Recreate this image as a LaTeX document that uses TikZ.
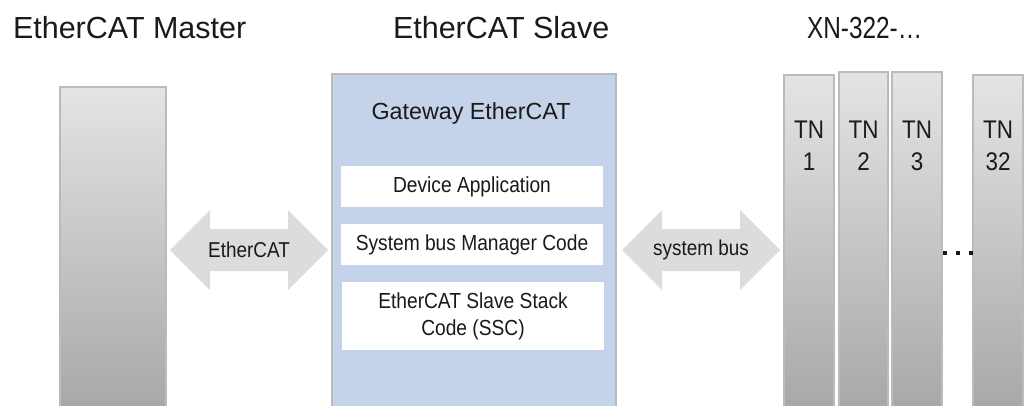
\documentclass[tikz,border=0pt]{standalone}
\usepackage{fontspec}
\setmainfont{Liberation Sans}
\newfontfamily\cond[FakeStretch=0.88]{Liberation Sans}
\newfontfamily\narrowt[FakeStretch=0.8]{Liberation Sans}
\usetikzlibrary{calc}
\definecolor{bord}{HTML}{BBBBBB}
\definecolor{slavebg}{HTML}{C5D3EA}
\definecolor{arrowgray}{HTML}{DCDCDC}
\definecolor{gtop}{HTML}{E4E4E4}
\definecolor{gbot}{HTML}{A8A8A8}
\definecolor{ink}{HTML}{1A1A1A}
\begin{document}
\begin{tikzpicture}[x=1pt,y=1pt,
  every node/.style={inner sep=0pt, outer sep=0pt, text=ink},
  device/.style={draw=bord, line width=1.5pt, top color=gtop, bottom color=gbot,
    anchor=north west, minimum width=#1},
  slavebox/.style={draw=bord, line width=1.5pt, fill=slavebg, anchor=north west},
  layer/.style={fill=white, anchor=north west, minimum width=262, align=center,
    font=\cond\fontsize{21.8}{27}\selectfont},
  title/.style={anchor=base west, font=\fontsize{30.5}{34}\selectfont},
  tnlabel/.style={align=center, font=\cond\fontsize{25.5}{32}\selectfont},
  buslabel/.style={font=\cond\fontsize{21.5}{24}\selectfont},
  busarrow/.style={fill=arrowgray}
]
\useasboundingbox (0,0) rectangle (1029,-405);

% titles
\node[title] (tmaster) at (13,-38) {EtherCAT Master};
\node[title] (tslave) at (393,-38) {EtherCAT Slave};
\node[title, font=\narrowt\fontsize{30.5}{34}\selectfont] (txn) at (807,-38) {XN-322-…};

% master
\node[device=106, minimum height=321] (master) at (60,-87) {};

% slave
\node[slavebox, minimum width=284, minimum height=335] (slave) at (332,-74) {};
\node[font=\fontsize{23.3}{28}\selectfont] (gw) at (471,-113) {Gateway EtherCAT};
\node[layer, minimum height=41] (da) at (341,-166) {Device Application};
\node[layer, minimum height=41] (sbm) at (341,-224) {System bus Manager Code};
\node[layer, minimum height=68] (ssc) at (342,-282) {EtherCAT Slave Stack\\Code (SSC)};

% terminals
\node[device=50, minimum height=333] (tn1) at (784,-75) {};
\node[device=49, minimum height=336] (tn2) at (839,-72) {};
\node[device=50, minimum height=336] (tn3) at (892,-72) {};
\node[device=50, minimum height=333] (tn32) at (973,-75) {};
\node[tnlabel] (l1) at (809,-146) {TN\\1};
\node[tnlabel] (l2) at (863.5,-146) {TN\\2};
\node[tnlabel] (l3) at (917,-146) {TN\\3};
\node[tnlabel] (l32) at (998,-146) {TN\\32};

% dots
\foreach \x in {945,958,971} \fill[ink] (\x-2,-251) rectangle (\x+2,-255);

% EtherCAT arrow (master <-> slave)
\path let \p1=(master.east), \p2=(slave.west) in
  coordinate (ea) at (\x1+4,-250) coordinate (eb) at (\x2-4,-250);
\fill[busarrow] (ea) -- ++(40,40) -- ++(0,-19) -| ($(eb)+(-40,21)$) -- ++(0,19)
  -- (eb) -- ++(-40,-40) -- ++(0,19) -| ($(ea)+(40,-21)$) -- ++(0,-19) -- cycle;
\node[buslabel] (lec) at ($(ea)!0.5!(eb)$) {EtherCAT};

% system bus arrow (slave <-> terminals)
\path let \p1=(slave.east), \p2=(tn1.west) in
  coordinate (sa) at (\x1+6,-250) coordinate (sb) at (\x2-4,-250);
\fill[busarrow] (sa) -- ++(40,40) -- ++(0,-19) -| ($(sb)+(-40,21)$) -- ++(0,19)
  -- (sb) -- ++(-40,-40) -- ++(0,19) -| ($(sa)+(40,-21)$) -- ++(0,-19) -- cycle;
\node[buslabel] (lsb) at ($(sa)!0.5!(sb)$) {system bus};
\end{tikzpicture}
\end{document}
